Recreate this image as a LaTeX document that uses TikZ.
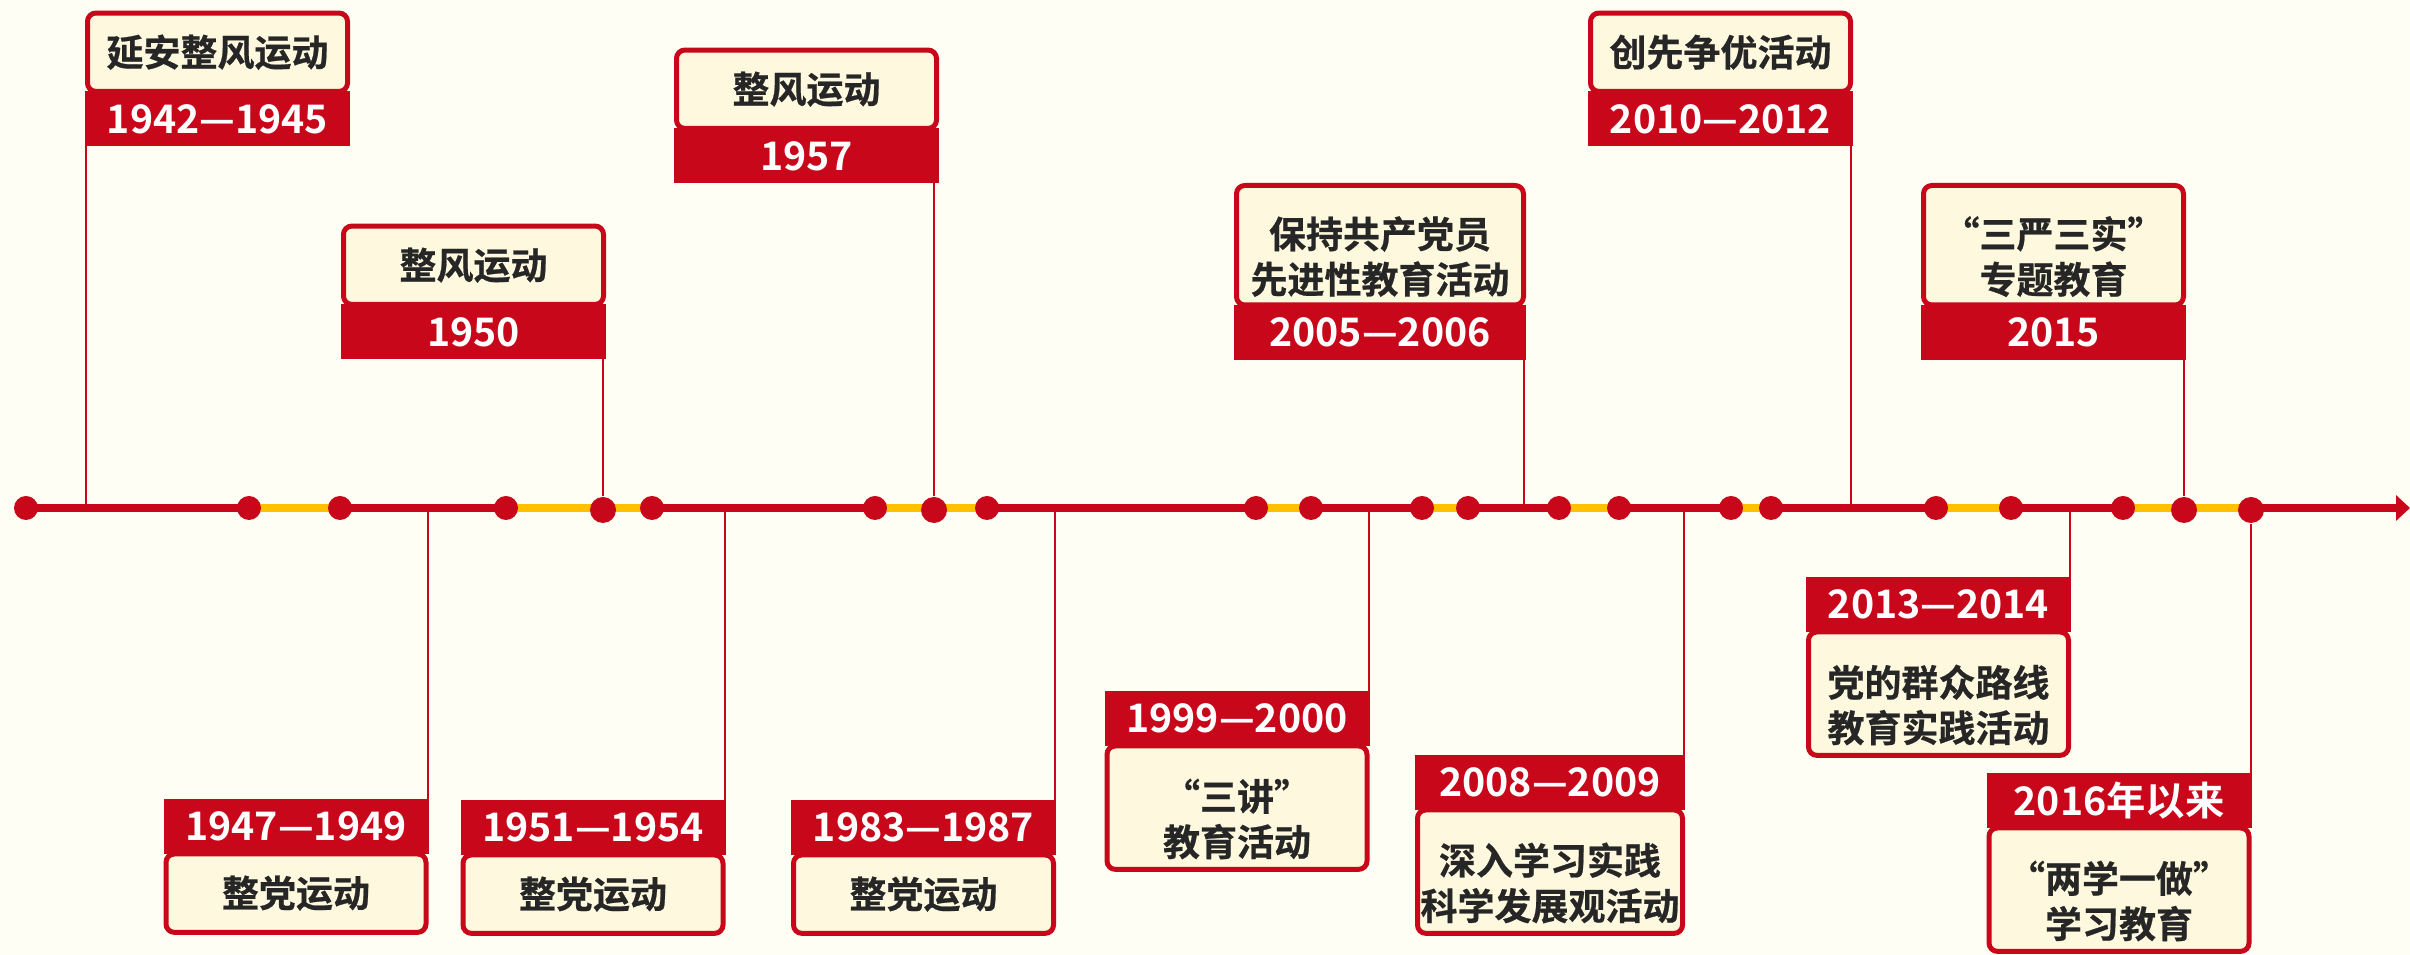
\documentclass[tikz,border=0pt]{standalone}
\usepackage{fontspec}
\newfontfamily\cjk{Noto Sans CJK SC Bold}
\newfontfamily\cjkh{Noto Sans CJK SC Bold}[FakeBold=0.6]
\usetikzlibrary{positioning}
\usetikzlibrary{arrows.meta}

\definecolor{tlred}{HTML}{C8071A}
\definecolor{tlyellow}{HTML}{FFC000}
\definecolor{cream}{HTML}{FEF9DE}
\definecolor{paper}{HTML}{FFFEF5}
\definecolor{ink}{HTML}{262626}

\tikzset{
	evt/.style={draw=tlred, line width=1.5pt, fill=cream, rounded corners=2.5pt, outer sep=0pt, inner sep=0pt,
		minimum width=78pt, minimum height=23.5pt, align=center, text=ink,
		font=\cjkh\fontsize{11.1}{13.6}\selectfont},
	evttwo/.style={evt, minimum height=35.85pt},
	evtlow/.style={evttwo, minimum height=37pt},
	txt/.style={inner sep=0pt, align=center, text=ink, font=\cjkh\fontsize{11.1}{13.6}\selectfont, yshift=-3.4pt},
	yr/.style={fill=tlred, outer sep=0pt, inner sep=0pt, minimum width=79.5pt, minimum height=16.5pt,
		text=white, font=\cjk\fontsize{11.8}{11.8}\selectfont},
	dot/.style={circle, fill=tlred, inner sep=0pt, minimum size=7.2pt},
	bigdot/.style={dot, minimum size=7.8pt},
	tline/.style={tlred, line width=2.4pt, -{Triangle[length=4.2pt,width=7.5pt]}},
	yline/.style={tlyellow, line width=2.4pt},
	conn/.style={tlred, line width=0.6pt}
}

\begin{document}
\begin{tikzpicture}[x=0.3pt, y=-0.3pt]
	\fill[paper] (0,0) rectangle (2410,955);
	\useasboundingbox (0,0) rectangle (2410,955);

	% timeline
	\foreach \x [count=\i] in {26,249,340,506,603,652,875,934,987,1256,1311,1422,1468,1559,1619,1731,1771,1936,2011,2123,2184,2251}
		\coordinate (p\i) at (\x,508);
	\coordinate (tip) at (2410,508);
	\draw[tline] (p1) -- (tip);
	\foreach \a/\b in {2/3,4/5,5/6,7/8,8/9,10/11,12/13,14/15,16/17,18/19,20/21,21/22}
		\draw[yline] (p\a) -- (p\b);
	\foreach \i in {1,2,3,4,6,7,9,10,11,12,13,14,15,16,17,18,19,20}
		\node[dot] (d\i) at (p\i) {};
	\foreach \i in {5,8,21,22}
		\node[bigdot] (d\i) at ([yshift=-0.6pt]p\i) {};

	% above the line
	\node[evt] (t1) at (217.5,52.25) {延安整风运动};
	\node[yr, below=0pt of t1] (y1) {1942—1945};
	\node[evt] (t2) at (473.5,265.25) {整风运动};
	\node[yr, below=0pt of t2] (y2) {1950};
	\node[evt] (t3) at (806.5,89.25) {整风运动};
	\node[yr, below=0pt of t3] (y3) {1957};
	\node[evttwo, minimum width=86.1pt, label={[txt]center:保持共产党员\\先进性教育活动}] (t4) at (1380,245.25) {};
	\node[yr, below=0pt of t4, minimum width=87.6pt] (y4) {2005—2006};
	\node[evt] (t5) at (1720.5,52.25) {创先争优活动};
	\node[yr, below=0pt of t5] (y5) {2010—2012};
	\node[evttwo, label={[txt]center:“三严三实”\\专题教育}] (t6) at (2053.5,245.25) {};
	\node[yr, below=0pt of t6] (y6) {2015};

	% below the line
	\node[yr] (y7) at (296,826.5) {1947—1949};
	\node[evt, below=0pt of y7] (t7) {整党运动};
	\node[yr] (y8) at (593,827.5) {1951—1954};
	\node[evt, below=0pt of y8] (t8) {整党运动};
	\node[yr] (y9) at (923.5,827.5) {1983—1987};
	\node[evt, below=0pt of y9] (t9) {整党运动};
	\node[yr] (y10) at (1237,718.5) {1999—2000};
	\node[evtlow, below=0pt of y10, label={[txt]center:“三讲”\\教育活动}] (t10) {};
	\node[yr, minimum width=81pt] (y11) at (1550,782.5) {2008—2009};
	\node[evtlow, below=0pt of y11, minimum width=79.5pt, label={[txt]center:深入学习实践\\科学发展观活动}] (t11) {};
	\node[yr] (y12) at (1938.5,604.5) {2013—2014};
	\node[evtlow, below=0pt of y12, label={[txt]center:党的群众路线\\教育实践活动}] (t12) {};
	\node[yr] (y13) at (2119,800.5) {2016年以来};
	\node[evtlow, below=0pt of y13, label={[txt]center:“两学一做”\\学习教育}] (t13) {};

	% connectors
	\draw[conn] ([xshift=0.3pt]y1.south west) -- ([xshift=0.3pt]y1.south west |- p1);
	\draw[conn] (d5) -- (d5 |- y2.south);
	\draw[conn] (d8) -- (d8 |- y3.south);
	\draw[conn] ([xshift=-0.6pt]y4.south east) -- ([xshift=-0.6pt]y4.south east |- p1);
	\draw[conn] ([xshift=-0.6pt]y5.south east) -- ([xshift=-0.6pt]y5.south east |- p1);
	\draw[conn] (d21) -- (d21 |- y6.south);
	\draw[conn] ([xshift=-0.3pt]y7.north east) -- ([xshift=-0.3pt]y7.north east |- p1);
	\draw[conn] ([xshift=-0.3pt]y8.north east) -- ([xshift=-0.3pt]y8.north east |- p1);
	\draw[conn] ([xshift=-0.3pt]y9.north east) -- ([xshift=-0.3pt]y9.north east |- p1);
	\draw[conn] ([xshift=-0.3pt]y10.north east) -- ([xshift=-0.3pt]y10.north east |- p1);
	\draw[conn] ([xshift=-0.3pt]y11.north east) -- ([xshift=-0.3pt]y11.north east |- p1);
	\draw[conn] ([xshift=-0.3pt]y12.north east) -- ([xshift=-0.3pt]y12.north east |- p1);
	\draw[conn] (d22) -- (d22 |- y13.north);
\end{tikzpicture}
\end{document}
